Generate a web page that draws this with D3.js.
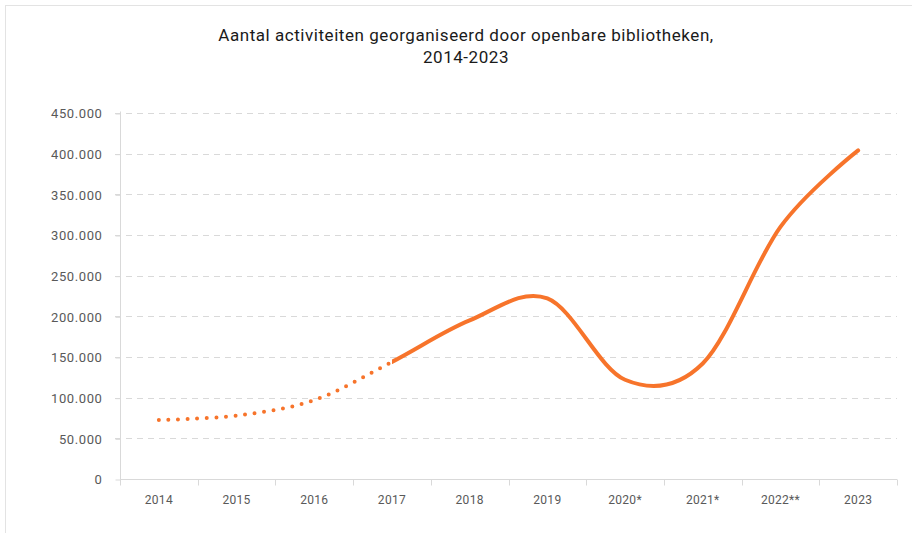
<!DOCTYPE html>
<html>
<head>
<meta charset="utf-8">
<script src="https://cdn.jsdelivr.net/npm/d3@7"></script>
<style>
  body { margin: 0; background: #fff; }
  text { font-family: Roboto, "Noto Sans", sans-serif; }
</style>
</head>
<body>
<div id="chart"></div>
<script>
// data
var jaren = ["2014", "2015", "2016", "2017", "2018", "2019", "2020*", "2021*", "2022**", "2023"];
var activiteiten = [72500, 78000, 97000, 144000, 195000, 222000, 122000, 142000, 310000, 404000];
var yTicks = [0, 50000, 100000, 150000, 200000, 250000, 300000, 350000, 400000, 450000];
var titel = ["Aantal activiteiten georganiseerd door openbare bibliotheken,", "2014-2023"];
var laatsteSchatting = "2017"; // tot hier stippellijn

var width = 912, height = 533;
var margin = {top: 113, right: 15, bottom: 54, left: 120};

var nl = d3.formatLocale({decimal: ",", thousands: ".", grouping: [3], currency: ["€", ""]});
var fmt = nl.format(",d");

var svg = d3.select("#chart").append("svg")
    .attr("width", width)
    .attr("height", height);

// kader
svg.append("rect")
    .attr("x", 5.5).attr("y", 5.5)
    .attr("width", width + 10).attr("height", height + 10)
    .attr("fill", "none")
    .attr("stroke", "#e3e3e3");

// titel
svg.append("text")
    .attr("x", 466)
    .attr("y", 41)
    .attr("text-anchor", "middle")
    .style("font-size", "17px")
    .style("letter-spacing", "0.55px")
    .style("fill", "#1a1a1a")
    .selectAll("tspan")
    .data(titel)
    .enter()
    .append("tspan")
    .attr("x", 466)
    .attr("dy", (d, i) => i == 0 ? 0 : 22)
    .text(d => d);

var x = d3.scaleBand()
    .domain(jaren)
    .range([margin.left, width - margin.right]);

var y = d3.scaleLinear()
    .domain([0, 450000])
    .range([height - margin.bottom, margin.top]);

// rasterlijnen
svg.append("g")
    .selectAll("line")
    .data(yTicks.slice(1))
    .enter()
    .append("line")
    .attr("x1", margin.left - 5)
    .attr("x2", width - margin.right)
    .attr("y1", d => Math.round(y(d)) + 0.5)
    .attr("y2", d => Math.round(y(d)) + 0.5)
    .attr("stroke", "#d9d9d9")
    .attr("stroke-dasharray", "6,5");

// y-as
var yAxis = svg.append("g")
    .attr("transform", "translate(" + (margin.left + 0.5) + ",0.5)")
    .call(d3.axisLeft(y).tickValues(yTicks).tickFormat(fmt).tickSize(5).tickPadding(13));
yAxis.select(".domain").attr("stroke", "#d9d9d9").attr("d", "M0," + y(0) + "V" + (y(450000) - 2));
yAxis.selectAll(".tick line").attr("stroke", "#d9d9d9");
yAxis.selectAll("text")
    .style("font-size", "13px")
    .style("letter-spacing", "0.6px")
    .style("fill", "#595959")
    .style("font-family", "Roboto, sans-serif");

// x-as (streepjes op de grenzen van de categorieën)
var xAxisG = svg.append("g")
    .attr("transform", "translate(0," + (Math.round(y(0)) + 0.5) + ")");
xAxisG.append("line")
    .attr("x1", margin.left).attr("x2", width - margin.right)
    .attr("stroke", "#d9d9d9");
xAxisG.selectAll(".grens")
    .data(jaren.concat(["einde"]))
    .enter()
    .append("line")
    .attr("x1", (d, i) => Math.round(margin.left + i * x.step()) + 0.5)
    .attr("x2", (d, i) => Math.round(margin.left + i * x.step()) + 0.5)
    .attr("y2", 6)
    .attr("stroke", "#d9d9d9");
xAxisG.selectAll(".label")
    .data(jaren)
    .enter()
    .append("text")
    .attr("x", d => x(d) + x.bandwidth() / 2)
    .attr("y", 24)
    .attr("text-anchor", "middle")
    .style("font-size", "12px")
    .style("letter-spacing", "0.3px")
    .style("fill", "#595959")
    .text(d => d);

// lijn
var lijn = d3.line()
    .x((d, i) => x(jaren[i]) + x.bandwidth() / 2)
    .y(d => y(d))
    .curve(d3.curveCardinal.tension(0));

var splitX = x(laatsteSchatting) + x.bandwidth() / 2;

var defs = svg.append("defs");
defs.append("clipPath").attr("id", "links")
    .append("rect").attr("x", 0).attr("y", 0).attr("width", splitX).attr("height", height);
defs.append("clipPath").attr("id", "rechts")
    .append("rect").attr("x", splitX).attr("y", 0).attr("width", width - splitX).attr("height", height);

svg.append("path")
    .datum(activiteiten)
    .attr("clip-path", "url(#links)")
    .attr("d", lijn)
    .attr("fill", "none")
    .attr("stroke", "#f7742b")
    .attr("stroke-width", 4)
    .attr("stroke-linecap", "round")
    .attr("stroke-dasharray", "0,9.6");

svg.append("path")
    .datum(activiteiten)
    .attr("clip-path", "url(#rechts)")
    .attr("d", lijn)
    .attr("fill", "none")
    .attr("stroke", "#f7742b")
    .attr("stroke-width", 4)
    .attr("stroke-linecap", "round");
</script>
</body>
</html>
